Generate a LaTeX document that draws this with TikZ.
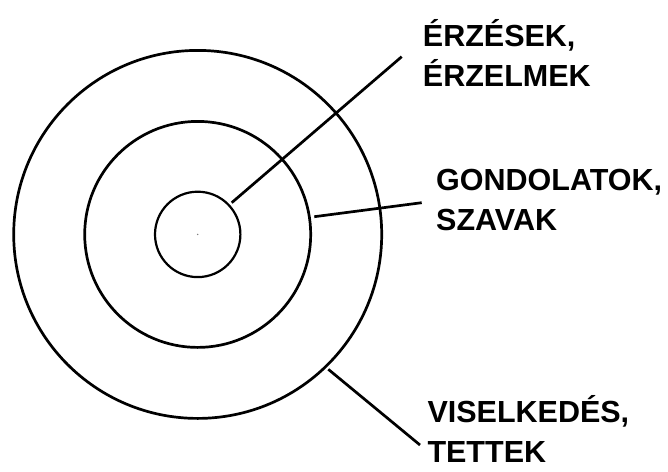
\documentclass[tikz,border=0pt]{standalone}
\usepackage{fontspec}
\setmainfont{Liberation Sans}
\begin{document}
\begin{tikzpicture}[x=1pt,y=-1pt,
  ring/.style={circle,draw,line width=2.7pt,inner sep=0pt},
  lead/.style={line width=2.7pt},
  lbl/.style={font=\fontsize{30.5}{40}\selectfont\bfseries,align=left,anchor=base west,inner sep=0pt}]
\useasboundingbox (0,0) rectangle (668,471);
\coordinate (c) at (197.7,234.4);
\node[ring,minimum size=368pt] (outer) at (c) {};
\node[ring,minimum size=226pt] (middle) at (c) {};
\node[ring,line width=2.2pt,minimum size=85.4pt] (inner) at (c) {};
\fill[gray] (c) circle (0.8pt);
% leader lines
\coordinate (s1) at (231.7,202.7);
\coordinate (e1) at (401.7,56.7);
\coordinate (s2) at (314.3,216.7);
\coordinate (e2) at (421.7,202.7);
\coordinate (s3) at (328.3,369.3);
\coordinate (e3) at (420,445);
\draw[lead] (s1) -- (e1);
\draw[lead] (s2) -- (e2);
\draw[lead] (s3) -- (e3);
% labels (base anchor = baseline of the last line)
\node[lbl] (l1) at (422.7,86) {ÉRZÉSEK,\\ÉRZELMEK};
\node[lbl] (l2) at (436,230) {GONDOLATOK,\\SZAVAK};
\node[lbl] (l3) at (427.3,462.7) {VISELKEDÉS,\\TETTEK};
\end{tikzpicture}
\end{document}
